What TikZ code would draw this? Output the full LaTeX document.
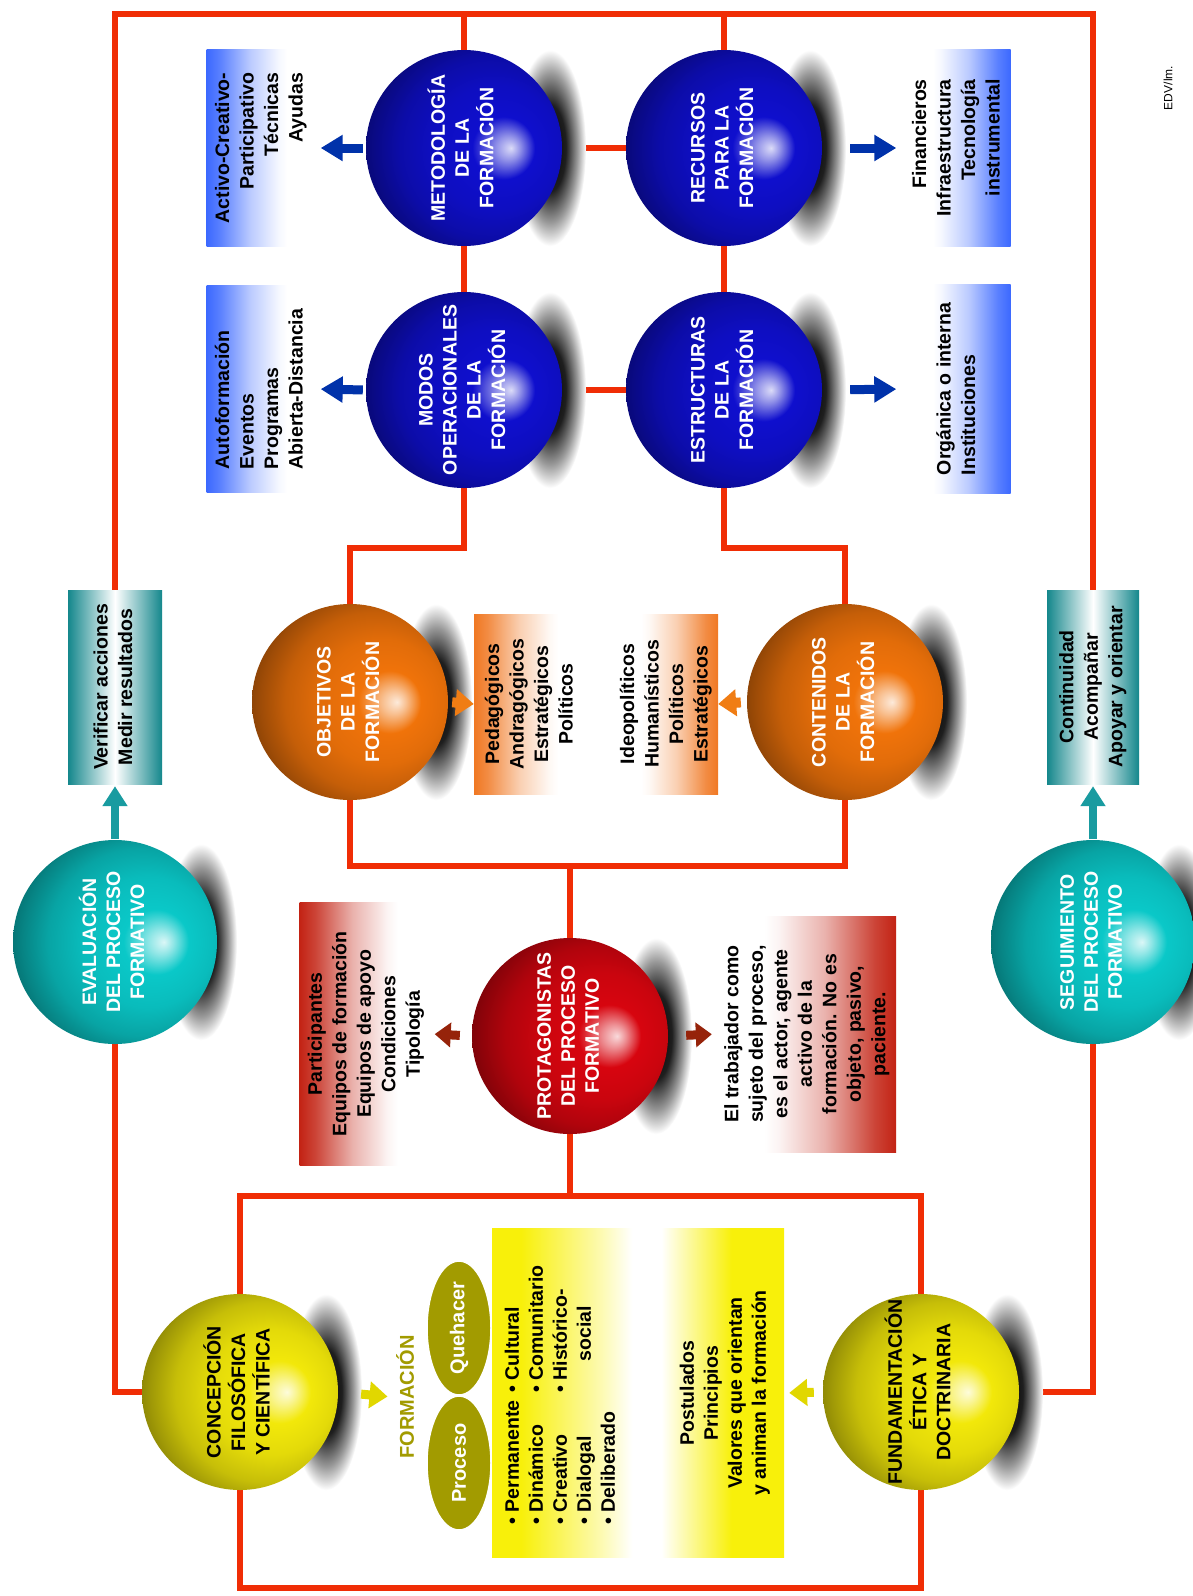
\documentclass[tikz,border=0pt]{standalone}
\usepackage{fontspec}
\setmainfont{Liberation Sans}
\usepackage{graphicx}
\usetikzlibrary{arrows.meta,shapes.geometric}
\pgfdeclarelayer{lines}
\pgfdeclarelayer{shadows}
\pgfsetlayers{lines,shadows,main}

\definecolor{framered}{RGB}{240,45,5}
\definecolor{cblue}{RGB}{15,15,205}
\definecolor{corange}{RGB}{240,115,10}
\definecolor{cred}{RGB}{215,5,15}
\definecolor{cteal}{RGB}{10,200,200}
\definecolor{cyellow}{RGB}{242,232,10}
\definecolor{bxblue}{RGB}{60,105,255}
\definecolor{bxorange}{RGB}{240,120,35}
\definecolor{bxred}{RGB}{195,35,20}
\definecolor{bxteal}{RGB}{20,135,140}
\definecolor{bxyellow}{RGB}{248,240,10}
\definecolor{arblue}{RGB}{0,50,170}
\definecolor{arorange}{RGB}{240,125,20}
\definecolor{arred}{RGB}{150,35,10}
\definecolor{arteal}{RGB}{25,155,160}
\definecolor{aryellow}{RGB}{225,215,0}
\definecolor{colive}{RGB}{162,155,0}

\colorlet{sphcol}{cblue}
\pgfdeclareradialshading[sphcol]{myball}{\pgfqpoint{12bp}{0bp}}{%
  color(0bp)=(sphcol!15!white);
  color(3bp)=(sphcol!45!white);
  color(8bp)=(sphcol);
  color(16bp)=(sphcol!94!black);
  color(23bp)=(sphcol!82!black);
  color(28bp)=(sphcol!66!black);
  color(32bp)=(sphcol!52!black);
  color(35bp)=(sphcol!45!white!75!black);
  color(37bp)=(sphcol!40!black);
  color(50bp)=(sphcol!40!black)}

\pgfdeclareradialshading{shad}{\pgfpointorigin}{%
  color(0bp)=(black); color(11bp)=(black!88); color(19bp)=(black!40);
  color(25bp)=(white); color(50bp)=(white)}

\colorlet{boxc}{bxblue}
\pgfdeclarehorizontalshading[boxc]{fadeR}{100bp}{%
  color(0bp)=(boxc); color(25bp)=(boxc); color(31bp)=(boxc!85!white);
  color(45bp)=(boxc!35!white); color(58bp)=(boxc!5!white); color(62bp)=(white); color(100bp)=(white)}
\pgfdeclarehorizontalshading[boxc]{fadeL}{100bp}{%
  color(0bp)=(white); color(38bp)=(white); color(42bp)=(boxc!5!white);
  color(55bp)=(boxc!35!white); color(69bp)=(boxc!85!white); color(75bp)=(boxc); color(100bp)=(boxc)}
\pgfdeclarehorizontalshading[boxc]{fadeLR}{100bp}{%
  color(0bp)=(boxc); color(30bp)=(boxc); color(44bp)=(boxc!30!white);
  color(49bp)=(white); color(54bp)=(white); color(60bp)=(boxc!50!white); color(66bp)=(boxc); color(100bp)=(boxc)}

\newcommand\rtext[2][c]{\rotatebox{90}{\begin{tabular}{@{}#1@{}}#2\end{tabular}}}

\tikzset{
  redline/.style={draw=framered, line width=6pt},
  sphc/.code={\colorlet{sphcol}{#1}},
  bxc/.code={\colorlet{boxc}{#1}},
  ball/.style={circle, minimum size=196pt, inner sep=-40pt, shade, shading=myball,
    text=white, font=\fontsize{19.5}{24}\selectfont\bfseries},
  box/.style={rectangle, inner sep=0pt, shade, font=\fontsize{19.5}{24.5}\selectfont\bfseries},
  boxR/.style={box, shading=fadeR, bxc=#1},
  boxL/.style={box, shading=fadeL, bxc=#1},
  tealbox/.style={box, left color=bxteal, right color=bxteal, middle color=white},
  barrow/.style={draw=arblue, line width=9pt, -{Triangle[length=22pt,width=25pt]}},
  oarrow/.style={draw=arorange, line width=10pt, -{Triangle[length=18pt,width=26pt]}},
  rarrow/.style={draw=arred, line width=9pt, -{Triangle[length=16pt,width=24pt]}},
  yarrow/.style={draw=aryellow, line width=9pt, -{Triangle[length=18pt,width=26pt]}},
  tarrow/.style={draw=arteal, line width=8pt, -{Triangle[length=20pt,width=24pt]}},
  oval/.style={ellipse, fill=colive, draw=white, line width=1.5pt, minimum width=64pt,
    minimum height=134pt, inner sep=0pt, text=white, font=\fontsize{20}{24}\selectfont\bfseries}
}

\begin{document}
\begin{tikzpicture}[x=1pt,y=1pt]
\useasboundingbox (0,-1596) rectangle (1192,0);

% ---------- spheres ----------
\node[ball, sphc=cblue] (metod) at (464,-148) {\rtext{METODOLOGÍA\\DE LA\\FORMACIÓN}};
\node[ball, sphc=cblue] (modos) at (464,-390) {\rtext{MODOS\\OPERACIONALES\\DE LA\\FORMACIÓN}};
\node[ball, sphc=cblue] (recur) at (724,-148) {\rtext{RECURSOS\\PARA LA\\FORMACIÓN}};
\node[ball, sphc=cblue] (estr) at (724,-390) {\rtext{ESTRUCTURAS\\DE LA\\FORMACIÓN}};
\node[ball, sphc=corange] (objet) at (350,-702) {\rtext{OBJETIVOS\\DE LA\\FORMACIÓN}};
\node[ball, sphc=corange] (conten) at (845,-702) {\rtext{CONTENIDOS\\DE LA\\FORMACIÓN}};
\node[ball, sphc=cred] (prot) at (570,-1036) {\rtext{PROTAGONISTAS\\DEL PROCESO\\FORMATIVO}};
\node[ball, sphc=cteal, minimum size=204pt] (eval) at (115,-942) {\rtext{EVALUACIÓN\\DEL PROCESO\\FORMATIVO}};
\node[ball, sphc=cteal, minimum size=204pt] (segu) at (1093,-942) {\rtext{SEGUIMIENTO\\DEL PROCESO\\FORMATIVO}};
\node[ball, sphc=cyellow, text=black] (concep) at (240,-1392) {\rtext{CONCEPCIÓN\\FILOSÓFICA\\Y CIENTÍFICA}};
\node[ball, sphc=cyellow, text=black] (fund) at (921,-1392) {\rtext{FUNDAMENTACIÓN\\ÉTICA Y\\DOCTRINARIA}};

% ---------- boxes ----------
\node[boxR=bxblue, minimum width=109pt, minimum height=197pt] (actbox) at (261,-148)
  {\rtext[r]{Activo-Creativo-\\Participativo\\Técnicas\\Ayudas}};
\node[boxR=bxblue, minimum width=109pt, minimum height=207pt] (autobox) at (261,-389)
  {\rtext[l]{Autoformación\\Eventos\\Programas\\Abierta-Distancia}};
\node[boxL=bxblue, minimum width=105pt, minimum height=197pt] (finbox) at (958,-148)
  {\rtext[r]{Financieros\\Infraestructura\\Tecnología\\instrumental}};
\node[boxL=bxblue, minimum width=105pt, minimum height=209pt] (orgbox) at (958,-389)
  {\rtext[l]{Orgánica o interna\\Instituciones}};
\node[tealbox, minimum width=94pt, minimum height=194pt] (verif) at (115,-687)
  {\rtext{Verificar acciones\\Medir resultados}};
\node[tealbox, minimum width=92pt, minimum height=194pt] (contin) at (1093,-687)
  {\rtext{Continuidad\\Acompañar\\Apoyar y orientar}};
\node[boxR=bxorange, minimum width=114pt, minimum height=180pt] (pedbox) at (531,-704)
  {\rtext{Pedagógicos\\Andragógicos\\Estratégicos\\Políticos}};
\node[boxL=bxorange, minimum width=104pt, minimum height=180pt] (ideobox) at (666,-704)
  {\rtext{Ideopolíticos\\Humanísticos\\Políticos\\Estratégicos}};
\node[boxR=bxred, minimum width=133pt, minimum height=263pt] (partbox) at (366,-1034)
  {\rtext{Participantes\\Equipos de formación\\Equipos de apoyo\\Condiciones\\Tipología}};
\node[boxL=bxred, minimum width=178pt, minimum height=236pt] (trabbox) at (807,-1034)
  {\rtext{El trabajador como\\sujeto del proceso,\\es el actor, agente\\activo de la\\formación. No es\\objeto, pasivo,\\paciente.}};
\node[box, shading=fadeLR, bxc=bxyellow, minimum width=292pt, minimum height=329pt] (ybox) at (638,-1393) {};

% ---------- texts in yellow box ----------
\node[font=\fontsize{19.5}{24}\selectfont\bfseries] (list) at (562,-1395)
  {\rotatebox{90}{\begin{tabular}{@{}l@{\hspace{8pt}}l@{}}
   \textbullet\ Permanente & \textbullet\ Cultural\\
   \textbullet\ Dinámico & \textbullet\ Comunitario\\
   \textbullet\ Creativo & \textbullet\ Histórico-\\
   \textbullet\ Dialogal & \hspace{1.6em}social\\
   \textbullet\ Deliberado & \end{tabular}}};
\node[font=\fontsize{19.5}{24}\selectfont\bfseries] (post) at (725,-1393)
  {\rtext{Postulados\\Principios\\Valores que orientan\\y animan la formación}};

% ---------- formacion ----------
\node[oval] (proc) at (459,-1463) {\rotatebox{90}{Proceso}};
\node[oval] (queh) at (459,-1328) {\rotatebox{90}{Quehacer}};
\node[text=colive, font=\fontsize{20}{24}\selectfont\bfseries] (formt) at (405,-1397) {\rotatebox{90}{FORMACIÓN}};

\node[font=\fontsize{12}{14}\selectfont] (edv) at (1168,-88) {\rotatebox{90}{EDV/lm.}};

% ---------- arrows ----------
\draw[barrow, shorten <=3pt, shorten >=5pt] (metod.west) -- (actbox.east);
\draw[barrow, shorten <=3pt, shorten >=5pt] (modos.west) -- (autobox.east);
\draw[barrow, shorten <=28pt, shorten >=9pt] (recur.east) -- (finbox.west);
\draw[barrow, shorten <=28pt, shorten >=9pt] (estr.east) -- (orgbox.west);
\draw[oarrow, shorten <=4pt] (objet.east) -- (pedbox.west);
\draw[oarrow, shorten <=6pt] (conten.west) -- (ideobox.east);
\draw[rarrow, shorten <=12pt, shorten >=2pt] (prot.west) -- (partbox.east);
\draw[rarrow, shorten <=18pt, shorten >=6pt] (prot.east) -- (trabbox.west);
\draw[yarrow, shorten <=23pt, shorten >=5pt] (concep.east) -- (formt.west);
\draw[yarrow, shorten <=9pt, shorten >=5pt] (fund.west) -- (ybox.east);
\draw[tarrow, shorten <=1pt, shorten >=2pt] (eval.north) -- (verif.south);
\draw[tarrow, shorten <=1pt, shorten >=2pt] (segu.north) -- (contin.south);

% ---------- shadows ----------
\begin{pgfonlayer}{shadows}
\foreach \n in {metod,modos,recur,estr,objet,conten,prot,eval,segu,concep,fund}{
  \shade[shading=shad] ([xshift=86pt]\n.center) ellipse (36pt and 98pt);
}
\end{pgfonlayer}

% ---------- connectors ----------
\coordinate (top) at (600,-14);
\coordinate (jA) at (600,-548);
\coordinate (jB) at (600,-866);
\coordinate (jC) at (600,-1196);
\coordinate (jD) at (600,-1588);
\begin{pgfonlayer}{lines}
\fill[white] (0,-1596) rectangle (1192,0);
\draw[redline] (verif.north) -- (verif.north |- top) -- (contin.north |- top) -- (contin.north);
\draw[redline] (metod.center) -- (metod.center |- top);
\draw[redline] (recur.center) -- (recur.center |- top);
\draw[redline] (metod.center) -- (recur.center);
\draw[redline] (modos.center) -- (estr.center);
\draw[redline] (metod.center) -- (modos.center);
\draw[redline] (recur.center) -- (estr.center);
\draw[redline] (modos.center) -- (modos.center |- jA) -| (objet.center);
\draw[redline] (estr.center) -- (estr.center |- jA) -| (conten.center);
\draw[redline] (objet.center) -- (objet.center |- jB) -| (conten.center);
\draw[redline] (prot.center) -- (prot.center |- jB);
\draw[redline] (prot.center) -- (prot.center |- jC);
\draw[redline] (concep.center) -- (concep.center |- jC) -| (fund.center);
\draw[redline] (concep.center) -- (concep.center |- jD) -| (fund.center);
\draw[redline] (eval.center) |- (concep.center);
\draw[redline] (segu.center) |- (fund.center);
\end{pgfonlayer}
\end{tikzpicture}
\end{document}
